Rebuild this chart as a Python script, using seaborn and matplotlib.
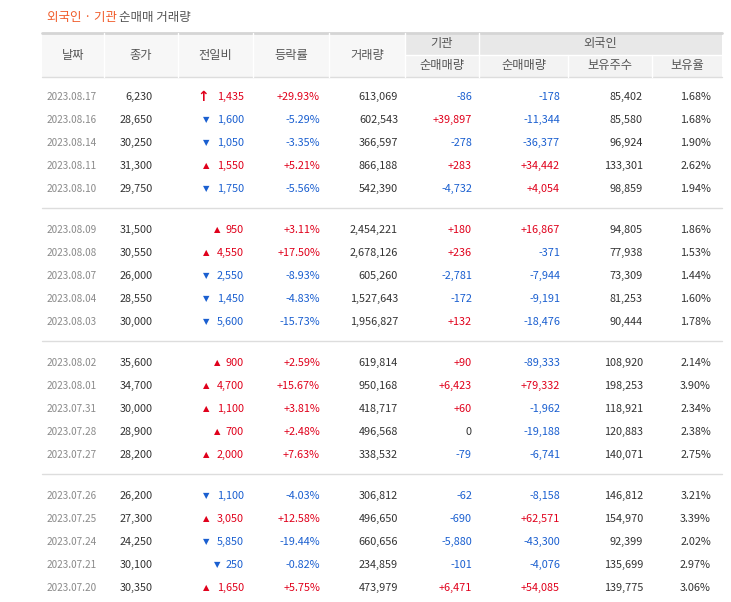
import matplotlib
matplotlib.use("Agg")
import matplotlib.pyplot as plt
import seaborn as sns
from matplotlib.patches import Rectangle

sns.set_theme(style="white")
plt.rcParams['font.family'] = ['Noto Sans CJK KR', 'DejaVu Sans']

dates = ["2023.08.17","2023.08.16","2023.08.14","2023.08.11","2023.08.10",
         "2023.08.09","2023.08.08","2023.08.07","2023.08.04","2023.08.03",
         "2023.08.02","2023.08.01","2023.07.31","2023.07.28","2023.07.27",
         "2023.07.26","2023.07.25","2023.07.24","2023.07.21","2023.07.20"]
close = [6230,28650,30250,31300,29750,31500,30550,26000,28550,30000,
         35600,34700,30000,28900,28200,26200,27300,24250,30100,30350]
change = [1435,-1600,-1050,1550,-1750,950,4550,-2550,-1450,-5600,
          900,4700,1100,700,2000,-1100,3050,-5850,-250,1650]
limit_up = [True] + [False]*19
rate = [29.93,-5.29,-3.35,5.21,-5.56,3.11,17.50,-8.93,-4.83,-15.73,
        2.59,15.67,3.81,2.48,7.63,-4.03,12.58,-19.44,-0.82,5.75]
volume = [613069,602543,366597,866188,542390,2454221,2678126,605260,1527643,1956827,
          619814,950168,418717,496568,338532,306812,496650,660656,234859,473979]
inst = [-86,39897,-278,283,-4732,180,236,-2781,-172,132,
        90,6423,60,0,-79,-62,-690,-5880,-101,6471]
foreign = [-178,-11344,-36377,34442,4054,16867,-371,-7944,-9191,-18476,
           -89333,79332,-1962,-19188,-6741,-8158,62571,-43300,-4076,54085]
holdings = [85402,85580,96924,133301,98859,94805,77938,73309,81253,90444,
            108920,198253,118921,120883,140071,146812,154970,92399,135699,139775]
hold_ratio = [1.68,1.68,1.90,2.62,1.94,1.86,1.53,1.44,1.60,1.78,
              2.14,3.90,2.34,2.38,2.75,3.21,3.39,2.02,2.97,3.06]

RED, BLUE, DARK, GREY = "#e0001b", "#1a5fd0", "#333333", "#8a8a8a"

def col(v):
    return RED if v > 0 else (BLUE if v < 0 else DARK)

def signed(v):
    return f"+{v:,}" if v > 0 else (f"{v:,}" if v < 0 else "0")

fig = plt.figure(figsize=(7.31, 6.02), dpi=100)
ax = fig.add_axes([0, 0, 1, 1])
ax.set_xlim(0, 731); ax.set_ylim(602, 0); ax.axis("off")

# title
ax.text(47, 18, "외국인 · 기관", color="#f05a28", fontsize=9, va="center")
ax.text(119, 18, "순매매 거래량", color="#555555", fontsize=9, va="center")

# header
bounds = [42, 104, 178, 253, 329, 405, 479, 568, 652, 722]
ax.add_patch(Rectangle((42, 33), 680, 44, color="#f7f7f7", lw=0))
ax.add_patch(Rectangle((405, 33), 317, 22, color="#e8e8e8", lw=0))
ax.add_patch(Rectangle((405, 55), 317, 22, color="#f3f3f3", lw=0))
ax.plot([42, 722], [33, 33], color="#d5d5d5", lw=2)
ax.plot([42, 722], [77, 77], color="#dddddd", lw=1)
ax.plot([405, 722], [55, 55], color="white", lw=1)
for b in bounds[1:-1]:
    y0 = 33 if b in (104, 178, 253, 329, 405, 479) else 55
    ax.plot([b, b], [y0, 77], color="white", lw=1)
hdr_kw = dict(color="#555555", fontsize=8.8, ha="center", va="center")
for i, h in enumerate(["날짜", "종가", "전일비", "등락률", "거래량"]):
    ax.text((bounds[i] + bounds[i+1]) / 2, 55, h, **hdr_kw)
ax.text(442, 44, "기관", **hdr_kw)
ax.text(600, 44, "외국인", **hdr_kw)
for i, h in enumerate(["순매매량", "순매매량", "보유주수", "보유율"]):
    ax.text((bounds[5+i] + bounds[6+i]) / 2, 66, h, **hdr_kw)

fs = 7.8
for i in range(len(dates)):
    g, r = divmod(i, 5)
    y = 97 + g * 133 + r * 23
    ax.text(47, y, dates[i], color=GREY, fontsize=7.2, va="center")
    ax.text(153, y, f"{close[i]:,}", color=DARK, fontsize=fs, ha="right", va="center")
    c = col(change[i])
    mark = "↑" if limit_up[i] else ("▲" if change[i] > 0 else "▼")
    ax.text(244, y, f"{abs(change[i]):,}", color=c, fontsize=fs, ha="right", va="center")
    nchar = len(f"{abs(change[i]):,}")
    ax.text(244 - nchar * 5.6 - 7, y, mark, color=c, fontsize=6 if not limit_up[i] else 10,
            fontweight="bold" if limit_up[i] else "normal", ha="right", va="center",
            family="DejaVu Sans")
    ax.text(320, y, (f"+{rate[i]:.2f}%" if rate[i] > 0 else f"{rate[i]:.2f}%"),
            color=col(rate[i]), fontsize=fs, ha="right", va="center")
    ax.text(398, y, f"{volume[i]:,}", color=DARK, fontsize=fs, ha="right", va="center")
    ax.text(472, y, signed(inst[i]), color=col(inst[i]), fontsize=fs, ha="right", va="center")
    ax.text(560, y, signed(foreign[i]), color=col(foreign[i]), fontsize=fs, ha="right", va="center")
    ax.text(643, y, f"{holdings[i]:,}", color=DARK, fontsize=fs, ha="right", va="center")
    ax.text(711, y, f"{hold_ratio[i]:.2f}%", color=DARK, fontsize=fs, ha="right", va="center")

for g in range(3):
    yl = 208 + g * 133
    ax.plot([42, 722], [yl, yl], color="#dddddd", lw=1)

fig.savefig("out.png", dpi=100)
